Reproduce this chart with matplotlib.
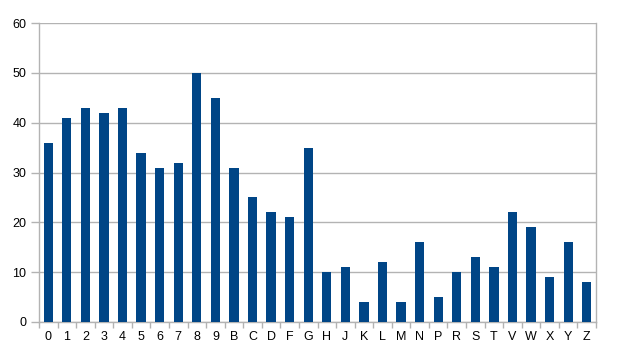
import matplotlib
matplotlib.use("Agg")
import matplotlib.pyplot as plt
import numpy as np

categories = ["0","1","2","3","4","5","6","7","8","9","B","C","D","F","G",
              "H","J","K","L","M","N","P","R","S","T","V","W","X","Y","Z"]
values = [36,41,43,42,43,34,31,32,50,45,31,25,22,21,35,
          10,11,4,12,4,16,5,10,13,11,22,19,9,16,8]

plt.rcParams['font.family'] = ['Liberation Sans', 'DejaVu Sans']

fig = plt.figure(figsize=(6.18, 3.6), dpi=100)
ax = fig.add_axes([39/618, 1 - 322/360, (596-39)/618, (322-23)/360])

x = np.arange(len(categories))
ax.bar(x, values, width=0.5, color="#004586", zorder=3)

grid_c = "#b3b3b3"
ax.set_xlim(-0.5, len(categories) - 0.5)
ax.set_ylim(0, 60)
ax.set_yticks(range(0, 61, 10))
ax.yaxis.grid(True, color=grid_c, linewidth=1, zorder=0)
for s in ["left", "right", "bottom"]:
    ax.spines[s].set_color(grid_c)
    ax.spines[s].set_linewidth(1)
ax.spines["top"].set_visible(False)

ax.set_xticks(x)
ax.set_xticklabels(categories)
ax.set_xticks(np.arange(-0.5, len(categories)), minor=True)
ax.tick_params(axis="x", which="major", length=0, pad=6.5, labelsize=9, labelcolor="#000000")
ax.tick_params(axis="x", which="minor", length=4, color=grid_c, width=1)
ax.tick_params(axis="y", length=6, color=grid_c, width=1, pad=3, labelsize=9, labelcolor="#000000")

fig.savefig("out.png", dpi=100)
